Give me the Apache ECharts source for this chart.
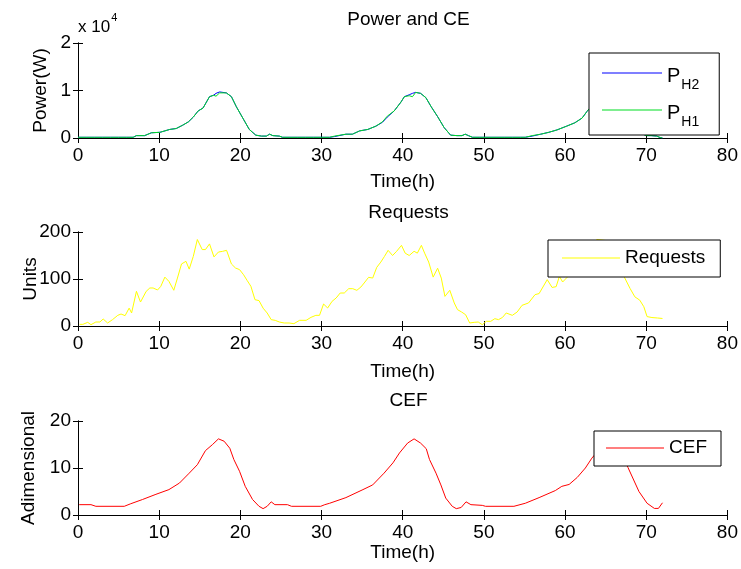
<!DOCTYPE html>
<html>
<head>
<meta charset="utf-8">
<script src="https://cdn.jsdelivr.net/npm/echarts@6/dist/echarts.min.js"></script>
<style>
  html, body { margin: 0; padding: 0; background: #ffffff; }
  #chart { width: 741px; height: 569px; }
</style>
</head>
<body>
<div id="chart"></div>
<script>
// Power of the two hosts (W), sampled over three days
const powerTime = [0, 1, 2, 3, 4, 5, 6, 6.8, 7.2, 8.2, 9.05, 10.1, 11.3, 12.1, 12.9, 13.6, 14.2, 14.8, 15.4, 16.2, 16.7, 17.0, 17.45, 17.65, 18.27, 18.9, 19.5, 20.3, 21.1, 21.9, 22.6, 23.2, 23.6, 24.0, 24.8, 25.2, 26, 27, 28, 29, 30, 31, 31.6, 33.0, 33.8, 34.7, 35.7, 36.7, 37.5, 38.1, 38.95, 39.8, 40.2, 40.8, 41.2, 41.6, 42.2, 42.85, 43.5, 44.3, 45.1, 45.9, 46.7, 47.3, 47.7, 48.1, 48.6, 49.5, 50.5, 51.5, 52.5, 53.5, 54.5, 55.1, 55.95, 57.0, 58.0, 59.0, 60.2, 61.2, 62.1, 62.7, 63.5, 64.2, 65, 65.6, 66.2, 66.8, 67.5, 68.3, 69.1, 69.8, 70.1, 70.6, 71.3, 71.7, 72];
const powerH1 = [150, 150, 150, 150, 150, 150, 150, 150, 500, 500, 1100, 1200, 1800, 2000, 2700, 3400, 4400, 5700, 6300, 8700, 9000, 8800, 9500, 9700, 9500, 8700, 6600, 4200, 1800, 600, 400, 400, 800, 500, 400, 150, 150, 150, 150, 150, 150, 150, 400, 800, 800, 1500, 1800, 2500, 3400, 4600, 5700, 7600, 8700, 8900, 8700, 9600, 9400, 8500, 6600, 4500, 2200, 600, 500, 500, 800, 500, 150, 150, 150, 150, 150, 150, 150, 150, 500, 800, 1200, 1700, 2500, 3200, 4200, 5600, 7200, 8700, 9000, 9600, 9500, 8600, 6600, 4300, 2000, 600, 500, 500, 400, 100, 0];
const powerH2 = [150, 150, 150, 150, 150, 150, 150, 150, 500, 500, 1100, 1200, 1800, 2000, 2700, 3400, 4400, 5700, 6300, 8700, 9000, 9400, 9700, 9700, 9500, 8700, 6600, 4200, 1800, 600, 400, 400, 800, 500, 400, 150, 150, 150, 150, 150, 150, 150, 300, 800, 800, 1500, 1800, 2500, 3300, 4400, 5700, 7600, 8700, 9100, 9400, 9600, 9400, 8500, 6600, 4500, 2200, 600, 500, 500, 800, 500, 150, 150, 150, 150, 150, 150, 150, 150, 400, 800, 1200, 1700, 2500, 3200, 4200, 5600, 7200, 8700, 9300, 9700, 9500, 8600, 6600, 4300, 2000, 600, 500, 500, 400, 100, 0];

// Incoming requests (units)
const reqTime = [0.2, 0.6, 1.2, 1.6, 2.2, 2.7, 3.1, 3.65, 4.25, 4.9, 5.3, 5.8, 6.3, 6.6, 7.2, 7.7, 8.4, 8.85, 9.25, 9.8, 10.2, 10.7, 11.2, 11.8, 12.25, 12.75, 13.3, 13.7, 14.2, 14.7, 15.3, 15.7, 16.2, 16.75, 17.3, 17.8, 18.3, 18.9, 19.4, 19.9, 20.4, 20.85, 21.3, 21.8, 22.3, 22.8, 23.3, 23.8, 24.3, 24.8, 25.4, 26.0, 26.6, 27.3, 28.1, 28.7, 29.3, 29.75, 30.25, 30.75, 31.3, 31.8, 32.3, 32.8, 33.35, 33.85, 34.35, 34.85, 35.25, 35.8, 36.3, 36.8, 37.3, 37.75, 38.2, 38.75, 39.25, 39.85, 40.3, 40.8, 41.4, 41.8, 42.3, 42.7, 43.2, 43.75, 44.3, 44.75, 45.2, 45.8, 46.35, 46.75, 47.25, 47.75, 48.25, 48.8, 49.3, 49.8, 50.3, 50.85, 51.35, 51.8, 52.3, 52.75, 53.5, 54.1, 54.7, 55.5, 56.3, 56.8, 57.8, 58.4, 58.9, 59.3, 59.7, 60.25, 61, 62, 63, 63.9, 65.5, 66.2, 67.3, 68, 68.6, 69.2, 69.7, 70.1, 70.7, 71.4, 72];
const requests = [3.5, 3.5, 7.8, 2.8, 8.5, 8.5, 14.9, 6.4, 13.5, 22.7, 25.5, 22, 38, 27.7, 73.8, 51, 73.8, 80.9, 80.9, 76.6, 84.4, 104, 95, 76, 102, 132, 137.6, 121, 148, 184, 162.6, 162.6, 174.7, 147, 157.4, 158.8, 161, 132, 123.4, 120, 109, 96.5, 84.4, 56, 54, 38, 27.7, 13.5, 12, 8.5, 6.4, 6.4, 5, 12.1, 12.1, 18.4, 22.7, 22.7, 46.8, 38.3, 52.5, 59.6, 70.2, 70.2, 79.4, 79.4, 75.9, 83, 91.5, 103.6, 102, 124.8, 136, 148, 161, 150, 159, 171.6, 155, 150, 159, 155, 171.6, 155, 136, 104, 123, 102, 63, 76, 49, 34.8, 29.8, 24, 6.4, 7.8, 8.5, 2.8, 10, 10, 15.6, 13.5, 18.4, 27.7, 22.7, 29.8, 44, 49, 66.7, 69, 98.6, 82, 83.7, 105.7, 93.6, 103.5, 118, 135, 160, 184, 181, 150, 104, 80, 62, 55, 41, 20, 18, 17, 16];

// CEF (dimensionless)
const cefTime = [0.15, 1.6, 2.2, 5.7, 6.5, 7.95, 9.6, 11.2, 12.5, 13.7, 14.7, 15.7, 16.55, 17.3, 18.0, 18.7, 19.2, 19.9, 20.6, 21.5, 22.3, 22.8, 23.3, 23.8, 24.25, 25.8, 26.3, 29.9, 30.4, 31.0, 33.0, 35.1, 36.3, 37.7, 38.8, 39.6, 40.6, 41.4, 42.2, 42.9, 43.3, 44.1, 44.7, 45.3, 46.1, 46.6, 47.2, 47.8, 48.4, 49.8, 50.2, 53.7, 55.1, 56.8, 58.8, 59.6, 60.5, 61.5, 62.5, 63.3, 64, 64.7, 65.4, 66.1, 66.7, 67.2, 67.75, 69.1, 70.1, 71.0, 71.5, 72.0];
const cef = [2.2, 2.2, 1.85, 1.85, 2.4, 3.3, 4.4, 5.4, 6.8, 8.9, 10.7, 13.7, 14.96, 16.2, 15.7, 14.2, 11.8, 9.3, 6.1, 3.3, 1.85, 1.35, 1.85, 2.8, 2.2, 2.2, 1.85, 1.85, 2.2, 2.5, 3.7, 5.4, 6.4, 8.9, 11.1, 13.2, 15.3, 16.2, 15.3, 14.1, 11.8, 8.9, 6.4, 3.6, 1.85, 1.35, 1.6, 2.8, 2.2, 2.05, 1.85, 1.85, 2.5, 3.7, 5.2, 6.1, 6.5, 8.0, 10.0, 12.1, 13.5, 15.3, 16.2, 15.5, 14.0, 12.0, 10.1, 5.0, 2.5, 1.4, 1.4, 2.6];

const titles = ['Power and CE', 'Requests', 'CEF'];
const yNames = ['Power(W)', 'Units', 'Adimensional'];
const xName = 'Time(h)';

const FONT = '"Liberation Sans", Arial, Helvetica, sans-serif';
const FS = 19;

const pairs = (xs, ys) => xs.map((x, i) => [x, ys[i]]);

const grids = [
  { left: 78, top: 43, width: 651, height: 95 },
  { left: 78, top: 232, width: 651, height: 94 },
  { left: 78, top: 421, width: 651, height: 94 }
];
const yRanges = [
  { min: 0, max: 20000, interval: 10000, fmt: v => String(v / 10000) },
  { min: 0, max: 200, interval: 100, fmt: v => String(v) },
  { min: 0, max: 20, interval: 10, fmt: v => String(v) }
];
const xNameGaps = [34, 36, 28];
const yNameGaps = [28, 38, 40];

const black = { lineStyle: { color: '#000', width: 1 } };
const tick = { inside: true, length: 5, lineStyle: { color: '#000', width: 1 } };

const xAxes = [], yAxes = [];
grids.forEach((g, i) => {
  xAxes.push({
    type: 'value', gridIndex: i, position: 'bottom', min: 0, max: 80, interval: 10,
    axisLine: black, axisTick: tick, splitLine: { show: false },
    axisLabel: { color: '#000', fontSize: FS, fontFamily: FONT, margin: 8 },
    name: xName, nameLocation: 'middle', nameGap: xNameGaps[i], nameMoveOverlap: false,
    nameTextStyle: { color: '#000', fontSize: FS, fontFamily: FONT }
  });
  xAxes.push({
    type: 'value', gridIndex: i, position: 'top', min: 0, max: 80, interval: 10,
    axisLine: black, axisTick: tick, splitLine: { show: false }, axisLabel: { show: false }
  });
  const r = yRanges[i];
  yAxes.push({
    type: 'value', gridIndex: i, position: 'left', min: r.min, max: r.max, interval: r.interval,
    axisLine: { show: true, lineStyle: { color: '#000', width: 1 } }, axisTick: tick, splitLine: { show: false },
    axisLabel: { color: '#000', fontSize: FS, fontFamily: FONT, margin: 7, formatter: r.fmt },
    name: yNames[i], nameLocation: 'middle', nameGap: yNameGaps[i], nameMoveOverlap: false,
    nameTextStyle: { color: '#000', fontSize: FS, fontFamily: FONT }
  });
  yAxes.push({
    type: 'value', gridIndex: i, position: 'right', min: r.min, max: r.max, interval: r.interval,
    axisLine: { show: true, lineStyle: { color: '#000', width: 1 } }, axisTick: tick, splitLine: { show: false },
    axisLabel: { show: false }
  });
});

const lineSeries = (name, data, color, axis) => ({
  name, type: 'line', data, xAxisIndex: axis * 2, yAxisIndex: axis * 2,
  symbol: 'none', smooth: false, lineStyle: { color, width: 1 }, itemStyle: { color },
  emphasis: { disabled: true }
});

// Legend keys are drawn as thin horizontal strokes
const legendBase = {
  orient: 'vertical', itemWidth: 60, itemHeight: 1.2, icon: 'rect',
  borderColor: '#000', borderWidth: 1, borderRadius: 0, backgroundColor: '#fff',
  selectedMode: false, z: 10,
  textStyle: {
    color: '#000', fontSize: FS, fontFamily: FONT, lineHeight: 22,
    rich: {
      p: { fontSize: 20, fontFamily: FONT, color: '#000', lineHeight: 26, verticalAlign: 'bottom' },
      s: { fontSize: 14, fontFamily: FONT, color: '#000', lineHeight: 26, verticalAlign: 'bottom', padding: [0, 0, -6, 1] }
    }
  }
};

const subNames = { PH2: '{p|P}{s|H2}', PH1: '{p|P}{s|H1}' };

const chart = echarts.init(document.getElementById('chart'), null, { renderer: 'canvas' });
chart.setOption({
  animation: false,
  backgroundColor: '#fff',
  title: titles.map((t, i) => ({
    text: t, left: 403.5, textAlign: 'center', top: [5, 198, 386][i],
    textStyle: { color: '#000', fontSize: FS, fontWeight: 'normal', fontFamily: FONT }
  })),
  grid: grids,
  xAxis: xAxes,
  yAxis: yAxes,
  legend: [
    Object.assign({}, legendBase, {
      data: ['PH2', 'PH1'], left: 589, top: 53, padding: [7, 20, 6, 13], itemGap: 5,
      formatter: n => subNames[n]
    }),
    Object.assign({}, legendBase, {
      data: ['Requests'], left: 548, top: 240, padding: [7, 15, 8, 14], itemWidth: 58
    }),
    Object.assign({}, legendBase, {
      data: ['CEF'], left: 594, top: 431, padding: [6, 14, 7, 12], itemWidth: 58
    })
  ],
  graphic: [{
    type: 'text', left: 78, top: 12,
    style: {
      text: '{a|x 10}{b|4}', fill: '#000',
      rich: {
        a: { fontSize: 17, fontFamily: FONT, fill: '#000', verticalAlign: 'bottom', lineHeight: 24 },
        b: { fontSize: 11, fontFamily: FONT, fill: '#000', verticalAlign: 'top', lineHeight: 24, padding: [0, 0, 0, 1] }
      }
    }
  }],
  series: [
    lineSeries('PH2', pairs(powerTime, powerH2), '#0000ff', 0),
    lineSeries('PH1', pairs(powerTime, powerH1), '#00dd22', 0),
    lineSeries('Requests', pairs(reqTime, requests), '#ffff00', 1),
    lineSeries('CEF', pairs(cefTime, cef), '#ff0000', 2)
  ]
});
</script>
</body>
</html>
